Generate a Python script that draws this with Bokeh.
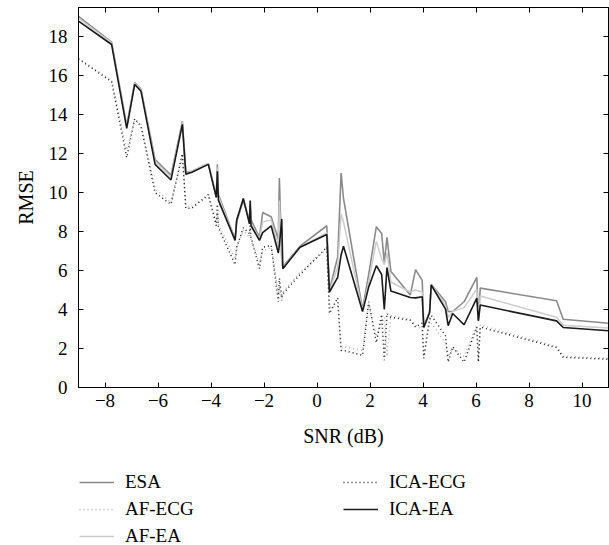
from bokeh.plotting import figure
from bokeh.layouts import column
from bokeh.models import Range1d, LinearAxis, Legend, LegendItem, FixedTicker
from bokeh.embed import file_html
from bokeh.resources import INLINE

# SNR grid (dB)
snr = [-9.0, -7.75, -7.18, -6.88, -6.64, -6.11, -5.51, -5.08, -4.95, -4.72,
       -4.10, -3.80, -3.76, -3.72, -3.09, -3.03, -2.78, -2.55, -2.52, -2.49,
       -2.17, -2.05, -1.73, -1.46, -1.42, -1.33, -1.29, -0.64, 0.37, 0.47,
       0.78, 0.91, 1.00, 1.72, 1.95, 2.24, 2.44, 2.54, 2.64, 2.79,
       3.52, 3.72, 3.97, 4.03, 4.25, 4.31, 4.85, 4.95, 5.12, 5.55,
       6.03, 6.09, 6.16, 9.04, 9.29, 11.0]

esa = [19.05, 17.72, 13.45, 15.65, 15.3, 11.7, 10.9, 13.65, 11.05, 11.1,
       11.5, 9.8, 11.45, 9.9, 7.6, 8.5, 9.6, 8.6, 9.3, 8.6,
       7.7, 8.98, 8.76, 7.6, 10.75, 6.6, 6.2, 7.25, 8.3, 5.0,
       6.7, 11.0, 9.7, 4.0, 5.8, 8.25, 7.9, 6.4, 7.7, 5.95,
       4.75, 6.05, 5.5, 3.1, 3.9, 5.3, 4.4, 3.9, 3.9, 4.4,
       5.65, 3.5, 5.1, 4.45, 3.5, 3.3]

af_ecg = [16.9, 15.75, 12.2, 13.7, 13.5, 10.2, 9.5, 11.9, 9.3, 9.3,
          9.8, 8.5, 9.0, 8.4, 6.6, 7.1, 8.1, 7.7, 8.0, 7.6,
          6.4, 7.0, 7.2, 4.8, 5.2, 4.4, 4.9, 5.9, 7.1, 4.1,
          4.2, 2.0, 2.1, 1.9, 4.3, 2.6, 3.3, 3.6, 1.6, 3.7,
          3.5, 3.2, 3.0, 1.6, 3.6, 3.3, 2.3, 1.6, 2.0, 1.6,
          3.2, 1.4, 3.2, 2.1, 1.6, 1.5]

af_ea = [18.95, 17.68, 13.4, 15.6, 15.25, 11.6, 10.8, 13.6, 11.0, 11.1,
         11.5, 9.8, 11.3, 9.8, 7.6, 8.6, 9.7, 8.5, 9.4, 8.4,
         7.6, 8.5, 8.6, 7.2, 9.6, 6.5, 6.15, 7.2, 7.95, 4.95,
         6.2, 8.9, 8.5, 3.95, 5.4, 7.5, 6.6, 6.3, 6.9, 5.4,
         4.9, 5.0, 4.9, 3.1, 3.9, 5.3, 4.2, 3.6, 3.9, 4.1,
         5.05, 3.45, 4.7, 3.6, 3.2, 3.05]

ica_ecg = [16.85, 15.7, 11.8, 13.8, 13.4, 10.0, 9.4, 12.0, 9.2, 9.2,
           9.9, 8.3, 9.4, 8.2, 6.3, 7.2, 8.2, 7.9, 8.3, 7.7,
           6.1, 7.2, 7.3, 4.4, 5.6, 4.6, 4.8, 5.8, 7.2, 3.8,
           4.6, 1.9, 1.9, 1.65, 4.4, 2.3, 3.75, 1.4, 3.8, 3.6,
           3.45, 3.1, 3.3, 1.5, 3.5, 3.7, 2.65, 1.3, 2.1, 1.3,
           3.1, 1.3, 3.1, 2.05, 1.55, 1.45]

ica_ea = [18.8, 17.6, 13.3, 15.55, 15.2, 11.45, 10.65, 13.5, 10.95, 11.05,
          11.45, 9.75, 11.1, 9.6, 7.55, 8.6, 9.7, 8.4, 9.6, 8.3,
          7.55, 7.95, 8.3, 6.9, 7.3, 8.65, 6.1, 7.2, 7.85, 4.9,
          5.65, 6.8, 7.25, 3.9, 5.15, 6.25, 5.8, 4.0, 6.15, 4.95,
          4.62, 4.6, 4.66, 3.08, 3.85, 5.26, 4.02, 3.17, 3.8, 3.22,
          4.59, 3.42, 4.23, 3.42, 3.08, 2.91]

x_ticks = [-8, -6, -4, -2, 0, 2, 4, 6, 8, 10]
y_ticks = [0, 2, 4, 6, 8, 10, 12, 14, 16, 18]
series_names = ["ESA", "AF-ECG", "AF-EA", "ICA-ECG", "ICA-EA"]

FONT = "Liberation Serif"
FS = "19px"
FS_TITLE = "20px"

styles = {
    "ESA": dict(line_color="#8a8a8a", line_width=1.6),
    "AF-ECG": dict(line_color="#b0b0b0", line_width=1.5, line_dash="1 3"),
    "AF-EA": dict(line_color="#cccccc", line_width=1.5),
    "ICA-ECG": dict(line_color="#222222", line_width=1.5, line_dash="1 3"),
    "ICA-EA": dict(line_color="#1a1a1a", line_width=1.6),
}

p = figure(width=609, height=460, output_backend="svg", toolbar_location=None,
           x_range=Range1d(-9, 11), y_range=Range1d(0, 19.5),
           min_border_left=78, min_border_right=1, min_border_top=7,
           min_border_bottom=73, background_fill_color="white",
           border_fill_color="white", outline_line_color="black")
p.grid.visible = False

def style_axis(ax, labels=True):
    ax.major_tick_in = 5
    ax.major_tick_out = 0
    ax.minor_tick_line_color = None
    ax.axis_line_color = "black"
    ax.major_tick_line_color = "black"
    ax.major_label_text_font = FONT
    ax.axis_label_text_font = FONT
    ax.axis_label_text_font_style = "normal"
    ax.axis_label_text_color = "black"
    ax.axis_label_text_font_size = FS_TITLE
    if labels:
        ax.major_label_text_font_size = FS
        ax.major_label_text_color = "black"
    else:
        ax.major_label_text_font_size = "1px"
        ax.major_label_text_color = None
        ax.major_label_standoff = 0

xa = p.xaxis[0]
xa.ticker = FixedTicker(ticks=x_ticks)
xa.axis_label = "SNR (dB)"
xa.major_label_standoff = 6
xa.axis_label_standoff = 15
style_axis(xa)
xa.major_label_overrides = {t: ("\u2212" + str(abs(t)) if t < 0 else str(t)) for t in x_ticks}

ya = p.yaxis[0]
ya.ticker = FixedTicker(ticks=y_ticks)
ya.axis_label = "RMSE"
ya.major_label_standoff = 11
ya.axis_label_standoff = 9
style_axis(ya)

top = LinearAxis(ticker=FixedTicker(ticks=x_ticks))
style_axis(top, labels=False)
p.add_layout(top, "above")
right = LinearAxis(ticker=FixedTicker(ticks=y_ticks))
style_axis(right, labels=False)
p.add_layout(right, "right")

data = {"ESA": esa, "AF-ECG": af_ecg, "AF-EA": af_ea, "ICA-ECG": ica_ecg, "ICA-EA": ica_ea}
for name in series_names:
    p.line(snr, data[name], **styles[name])

# Legend panel below the plot
pl = figure(width=609, height=85, output_backend="svg", toolbar_location=None,
            x_axis_type=None, y_axis_type=None, x_range=Range1d(0, 1), y_range=Range1d(0, 1),
            min_border=0, outline_line_color=None, background_fill_color="white",
            border_fill_color="white")
pl.grid.visible = False
items = []
for name in series_names:
    r = pl.line([5, 6], [5, 6], **styles[name])
    items.append(LegendItem(label=name, renderers=[r]))

legend = Legend(items=items, location=(1, -2), orientation="vertical", nrows=3,
                glyph_width=35, glyph_height=22, label_height=22, label_width=213,
                label_standoff=11, spacing=5, padding=0, margin=0,
                border_line_color=None, background_fill_alpha=0,
                label_text_font=FONT, label_text_font_size=FS,
                label_text_color="black")
pl.add_layout(legend, "center")

layout = column(p, pl, spacing=0)
open("out.html", "w").write(file_html(layout, INLINE))
